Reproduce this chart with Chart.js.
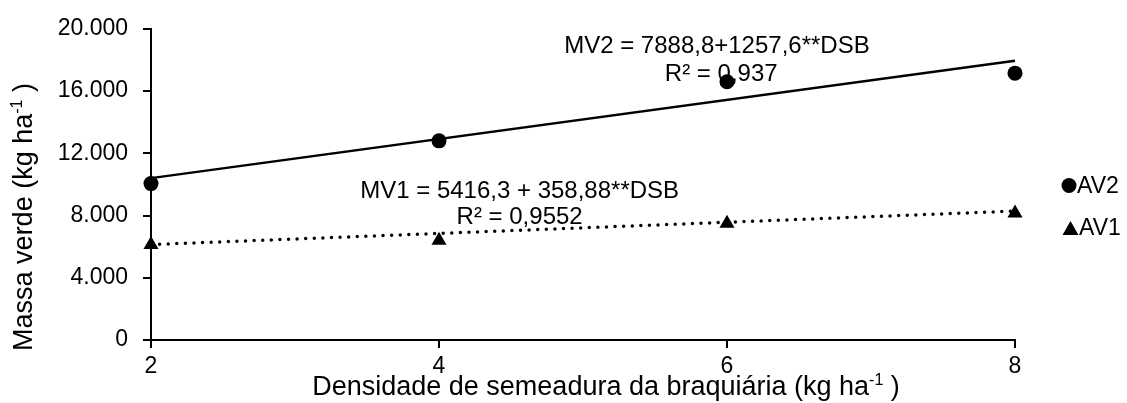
<!DOCTYPE html>
<html>
<head>
<meta charset="utf-8">
<script src="https://cdn.jsdelivr.net/npm/chart.js@4/dist/chart.umd.min.js"></script>
<style>
  body { margin: 0; background: #fff; }
  canvas { display: block; }
</style>
</head>
<body>
<canvas id="myChart" width="1127" height="403"></canvas>
<script>
// values
const densities = [2, 4, 6, 8];
const av2Values = [10050, 12800, 16600, 17150];
const av1Values = [6120, 6400, 7490, 8150];

// fitted lines, ends at 2 and 8
const trendX = [2, 8];
const av2Trend = [10404, 17950];
const av1Trend = [6134, 8287];

const xTickLabels = ['2', '4', '6', '8'];
const yTickValues = [0, 4000, 8000, 12000, 16000, 20000];
const yTickLabels = ['0', '4.000', '8.000', '12.000', '16.000', '20.000'];

const equations = [
    { text: 'MV2 = 7888,8+1257,6**DSB', x: 5.93, y: 18413 },
    { text: 'R² = 0,937', x: 5.96, y: 16635 },
    { text: 'MV1 = 5416,3 + 358,88**DSB', x: 4.56, y: 9143 },
    { text: 'R² = 0,9552', x: 4.56, y: 7429 }
];

const FONT = 'Liberation Sans, Arial, sans-serif';

function pts(xs, ys) {
    return xs.map((x, i) => ({ x: x, y: ys[i] }));
}

// text with a "-1" superscript part
function drawSupText(ctx, parts, x, y, size) {
    let total = 0;
    parts.forEach(p => {
        ctx.font = (p.sup ? Math.round(size * 0.6) : size) + 'px ' + FONT;
        p.w = ctx.measureText(p.t).width;
        total += p.w;
    });
    let cx = x - total / 2;
    ctx.textAlign = 'left';
    ctx.textBaseline = 'alphabetic';
    parts.forEach(p => {
        ctx.font = (p.sup ? Math.round(size * 0.6) : size) + 'px ' + FONT;
        ctx.fillText(p.t, cx, p.sup ? y - size * 0.38 : y);
        cx += p.w;
    });
}

const extras = {
    id: 'extras',
    beforeDatasetsDraw(chart) {
        const ctx = chart.ctx;
        const xs = chart.scales.x, ys = chart.scales.y;
        ctx.save();
        ctx.fillStyle = '#000';
        ctx.font = '24px ' + FONT;
        ctx.textAlign = 'center';
        ctx.textBaseline = 'alphabetic';
        equations.forEach(e => {
            ctx.fillText(e.text, xs.getPixelForValue(e.x), ys.getPixelForValue(e.y));
        });
        ctx.restore();
    },
    afterDraw(chart) {
        const ctx = chart.ctx;
        ctx.save();
        ctx.fillStyle = '#000';
        // axis titles
        drawSupText(ctx, [
            { t: 'Densidade de semeadura da braquiária (kg ha' },
            { t: '-1', sup: true },
            { t: ' )' }
        ], 606, 395, 27);
        ctx.translate(32, 217);
        ctx.rotate(-Math.PI / 2);
        drawSupText(ctx, [
            { t: 'Massa verde (kg ha' },
            { t: '-1', sup: true },
            { t: ' )' }
        ], 0, 0, 27);
        ctx.restore();

        // legend
        ctx.save();
        ctx.fillStyle = '#000';
        ctx.beginPath();
        ctx.arc(1069, 185.5, 7.5, 0, Math.PI * 2);
        ctx.fill();
        ctx.beginPath();
        ctx.moveTo(1070.5, 221);
        ctx.lineTo(1078.5, 235);
        ctx.lineTo(1062.5, 235);
        ctx.closePath();
        ctx.fill();
        ctx.font = '23px ' + FONT;
        ctx.textAlign = 'left';
        ctx.textBaseline = 'alphabetic';
        ctx.fillText('AV2', 1077, 193);
        ctx.fillText('AV1', 1079, 235);
        ctx.restore();
    }
};

const data = {
    datasets: [{
        label: 'AV2',
        data: pts(densities, av2Values),
        showLine: false,
        pointStyle: 'circle',
        pointRadius: 7.5,
        backgroundColor: '#000',
        borderColor: '#000',
        pointBorderWidth: 0,
        clip: false,
        order: 0
    }, {
        label: 'AV1',
        data: pts(densities, av1Values),
        showLine: false,
        pointStyle: 'triangle',
        pointRadius: 8.7,
        backgroundColor: '#000',
        borderColor: '#000',
        pointBorderWidth: 0,
        clip: false,
        order: 1
    }, {
        label: 'trend AV2',
        data: pts(trendX, av2Trend),
        borderColor: '#000',
        borderWidth: 2.5,
        pointRadius: 0,
        clip: false,
        order: 2
    }, {
        label: 'trend AV1',
        data: pts(trendX, av1Trend),
        borderColor: '#000',
        borderWidth: 3.5,
        borderDash: [0, 8.6],
        borderCapStyle: 'round',
        pointRadius: 0,
        clip: false,
        order: 3
    }]
};

const axisFont = { family: FONT, size: 23 };

const config = {
    type: 'line',
    data: data,
    plugins: [extras],
    options: {
        responsive: false,
        animation: false,
        devicePixelRatio: 1,
        layout: {
            padding: { left: 0, top: 25, right: 112, bottom: 0 }
        },
        plugins: {
            legend: { display: false },
            tooltip: { enabled: false }
        },
        scales: {
            x: {
                type: 'linear',
                min: 2,
                max: 8,
                afterBuildTicks: s => { s.ticks = densities.map(v => ({ value: v })); },
                afterFit: s => { s.height = 63; },
                border: { color: '#000', width: 2 },
                grid: { drawOnChartArea: false, tickLength: 8, color: '#000', lineWidth: 2 },
                ticks: {
                    font: axisFont,
                    color: '#000',
                    padding: 5,
                    maxRotation: 0,
                    callback: (v, i) => xTickLabels[i]
                }
            },
            y: {
                type: 'linear',
                min: 0,
                max: 20000,
                afterBuildTicks: s => { s.ticks = yTickValues.map(v => ({ value: v })); },
                afterFit: s => { s.width = 151; },
                border: { color: '#000', width: 2 },
                grid: { drawOnChartArea: false, tickLength: 8, color: '#000', lineWidth: 2 },
                ticks: {
                    font: axisFont,
                    color: '#000',
                    padding: 15,
                    callback: (v, i) => yTickLabels[i]
                }
            }
        }
    }
};

const myChart = new Chart(document.getElementById('myChart'), config);
</script>
</body>
</html>
